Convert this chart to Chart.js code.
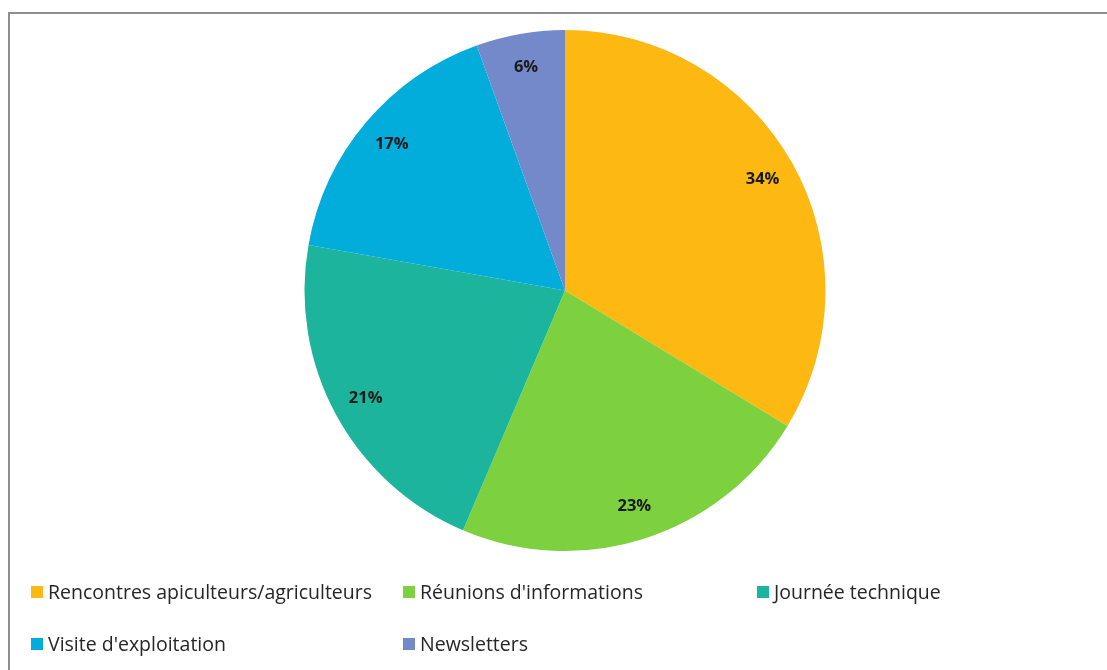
<!DOCTYPE html>
<html>
<head>
<meta charset="utf-8">
<script src="https://cdn.jsdelivr.net/npm/chart.js@4/dist/chart.umd.min.js"></script>
<style>
  html, body { margin: 0; padding: 0; background: #fff; }
  #wrap { position: relative; width: 1107px; height: 670px; }
  #frame {
    position: absolute; left: 8px; top: 12px; right: 0; bottom: 0;
    border-top: 2px solid #8e8e8e; border-left: 2px solid #8e8e8e;
  }
  canvas { position: absolute; left: 0; top: 0; }
</style>
</head>
<body>
<div id="wrap">
  <div id="frame"></div>
  <canvas id="pie" width="1107" height="670"></canvas>
</div>
<script>
const categories = [
  "Rencontres apiculteurs/agriculteurs",
  "Réunions d'informations",
  "Journée technique",
  "Visite d'exploitation",
  "Newsletters"
];
// shares in % (labels show them rounded)
const shares = [33.7, 22.7, 21.4, 16.7, 5.5];
const colors = ["#FDB812", "#7DD13F", "#1CB49C", "#02ACDB", "#7489C9"];

// percent labels inside each slice
const sliceLabels = {
  id: "sliceLabels",
  afterDatasetsDraw(chart) {
    const ctx = chart.ctx;
    const meta = chart.getDatasetMeta(0);
    ctx.save();
    ctx.font = "bold 16.5px 'Open Sans'";
    ctx.fillStyle = "#1a1a1a";
    ctx.textAlign = "center";
    ctx.textBaseline = "middle";
    meta.data.forEach((arc, i) => {
      const mid = (arc.startAngle + arc.endAngle) / 2;
      const r = arc.outerRadius * 0.87;
      ctx.fillText(Math.round(shares[i]) + "%", arc.x + Math.cos(mid) * r, arc.y + Math.sin(mid) * r);
    });
    ctx.restore();
  }
};

// Excel-like legend in a grid under the pie
const gridLegend = {
  id: "gridLegend",
  afterDraw(chart) {
    const ctx = chart.ctx;
    const cols = [31, 403, 757];
    const rows = [592, 644];
    ctx.save();
    ctx.font = "19.5px 'Open Sans'";
    ctx.textBaseline = "middle";
    ctx.textAlign = "left";
    categories.forEach((name, i) => {
      const x = cols[i % 3];
      const y = rows[Math.floor(i / 3)];
      ctx.fillStyle = colors[i];
      ctx.fillRect(x, y - 6, 12, 12);
      ctx.fillStyle = "#262626";
      ctx.fillText(name, x + 17, y + 1);
    });
    ctx.restore();
  }
};

new Chart(document.getElementById("pie"), {
  type: "pie",
  data: {
    labels: categories,
    datasets: [{
      data: shares,
      backgroundColor: colors,
      borderWidth: 0
    }]
  },
  options: {
    responsive: false,
    animation: false,
    layout: { padding: { top: 30, bottom: 119, left: 100, right: 77 } },
    plugins: {
      legend: { display: false },
      tooltip: { enabled: false }
    }
  },
  plugins: [sliceLabels, gridLegend]
});
</script>
</body>
</html>
